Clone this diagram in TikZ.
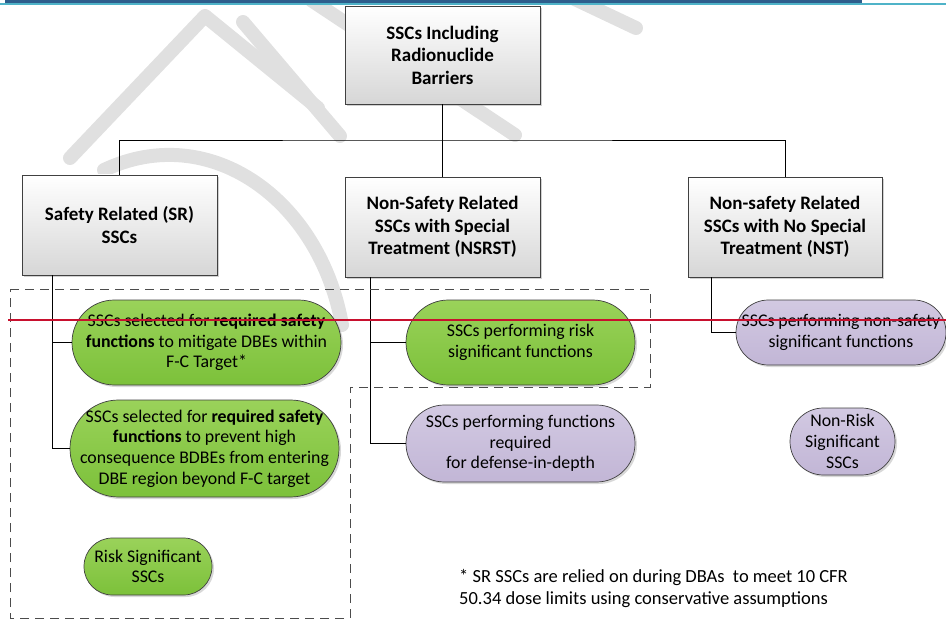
\documentclass[tikz,border=0pt]{standalone}
\usepackage{fontspec}
\setmainfont{Carlito}
\usetikzlibrary{shadows}
\definecolor{barblue}{HTML}{2E5E8C}
\definecolor{barteal}{HTML}{4FB3C8}
\definecolor{greentop}{HTML}{9AD25A}
\definecolor{greenbot}{HTML}{7CC13A}
\definecolor{purtop}{HTML}{D2C9E2}
\definecolor{purbot}{HTML}{C2B6D6}
\definecolor{redline}{HTML}{C8102E}
\definecolor{edge}{HTML}{404040}
\begin{document}
\begin{tikzpicture}[x=1pt,y=-1pt,
  wm/.style={draw=black!12, line width=14pt, line cap=round, line join=round},
  boxnode/.style={draw=edge, line width=0.8pt, top color=white, bottom color=black!16,
    minimum width=195pt, minimum height=100pt, inner sep=2pt, align=center,
    font=\bfseries\fontsize{19}{22.5}\selectfont,
    drop shadow={shadow xshift=2pt, shadow yshift=-2pt, fill=black!30, opacity=0.6}},
  pill/.style={rectangle, rounded corners=#1, draw=edge, line width=0.7pt, inner sep=0pt, align=center,
    font=\fontsize{17.8}{20.7}\selectfont,
    drop shadow={shadow xshift=2pt, shadow yshift=-2pt, fill=black!30, opacity=0.5}},
  greenpill/.style={pill=#1, top color=greentop, bottom color=greenbot},
  purplepill/.style={pill=#1, top color=purtop, bottom color=purbot},
  conn/.style={draw=black, line width=0.8pt},
  region/.style={draw=black!70, line width=1pt, dash pattern=on 9pt off 6pt},
  redrule/.style={draw=redline, line width=1.8pt}
]
\useasboundingbox (0,0) rectangle (946,623);

% watermark
\draw[wm] (70,158) -- (205,16) -- (318,108);
\draw[wm] (104,170) .. controls (210,120) and (320,200) .. (342,325);
\draw[wm] (243,22) -- (340,136);
\draw[wm] (311,0) -- (515,135);
\draw[wm] (560,-8) -- (636,28);

% header rules
\fill[barblue] (5,0.5) rectangle (862,2.6);
\fill[barteal] (0,3) rectangle (946,5);

% boxes
\node[boxnode, minimum height=98pt] (top) at (442.5,55) {SSCs Including\\Radionuclide\\Barriers};
\node[boxnode] (sr) at (119.5,225) {Safety Related (SR)\\SSCs};
\node[boxnode] (nsrst) at (442.5,227) {Non-Safety Related\\SSCs with Special\\Treatment (NSRST)};
\node[boxnode, minimum width=194pt] (nst) at (785,227) {Non-safety Related\\SSCs with No Special\\Treatment (NST)};

% pills
\node[greenpill=42.4pt, minimum width=269pt, minimum height=85pt] (g1) at (206.5,342.5)
  {SSCs selected for \textbf{required safety}\\\textbf{functions} to mitigate DBEs within\\F-C Target*};
\node[greenpill=48.4pt, minimum width=269pt, minimum height=97pt] (g2) at (204.5,448.5)
  {SSCs selected for \textbf{required safety}\\\textbf{functions} to prevent high\\consequence BDBEs from entering\\DBE region beyond F-C target};
\node[greenpill=28.4pt, minimum width=128pt, minimum height=57pt] (g3) at (148,566.5)
  {Risk Significant\\SSCs};
\node[greenpill=42.4pt, minimum width=229pt, minimum height=85pt] (g4) at (520.5,342.5)
  {SSCs performing risk\\significant functions};
\node[purplepill=38.4pt, minimum width=229pt, minimum height=77pt] (p1) at (520.5,443.5)
  {SSCs performing functions\\required\\for defense-in-depth};
\node[purplepill=32.4pt, minimum width=210pt, minimum height=65pt] (p2) at (841,332.5)
  {SSCs performing non-safety\\significant functions};
\node[purplepill=33.4pt, minimum width=105pt, minimum height=67pt] (p3) at (842.5,441.5)
  {Non-Risk\\Significant\\SSCs};

% connectors
\coordinate (hub) at (442.5,140);
\draw[conn] (top.south) -- (nsrst.north);
\draw[conn] (sr.north) |- (hub) -| (nst.north);
\coordinate (srx) at (52,275);
\draw[conn] (srx) |- (g2.west);
\draw[conn] (srx |- g1.west) -- (g1.west);
\coordinate (nsx) at (370,277);
\draw[conn] (nsx) |- (p1.west);
\draw[conn] (nsx |- g4.west) -- (g4.west);
\coordinate (nstx) at (711,277);
\draw[conn] (nstx) |- (p2.west);

% dashed region
\draw[region] (10,289) -- (650,289) -- (650,387) -- (350,387) -- (350,618) -- (10,618) -- cycle;

% red rule
\draw[redrule] (8,320) -- (946,320);

% footnote
\node[anchor=west, align=left, inner sep=0pt, font=\fontsize{18.5}{22}\selectfont] (note) at (459,589)
  {* SR SSCs are relied on during DBAs\ \ to meet 10 CFR\\50.34 dose limits using conservative assumptions};
\end{tikzpicture}
\end{document}
